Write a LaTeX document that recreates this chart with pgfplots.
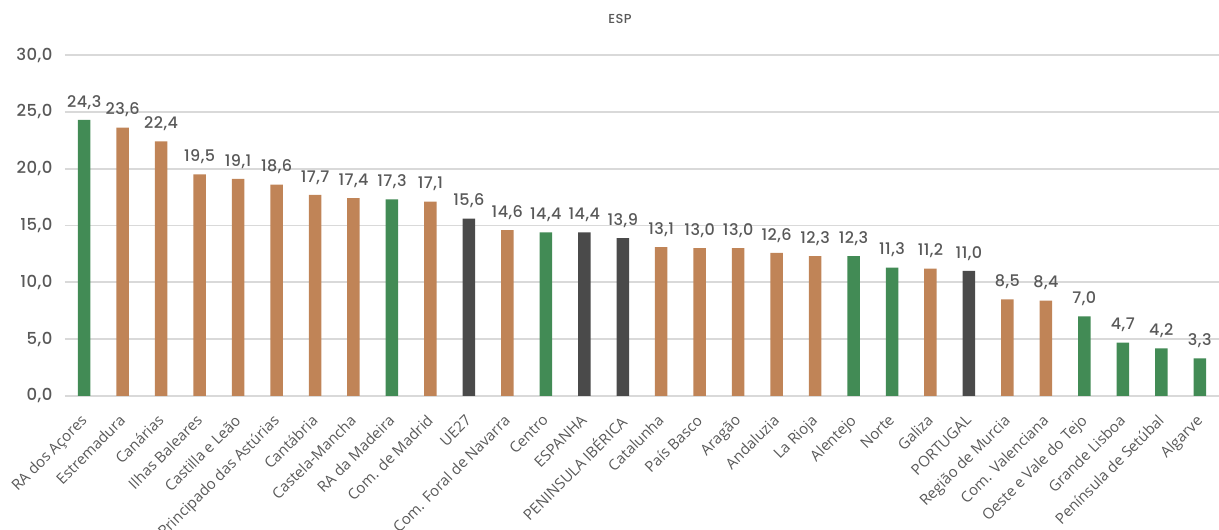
\documentclass[border=0pt]{standalone}
\usepackage{pgfplots}
\pgfplotsset{compat=1.18}
\usepackage{fontspec}
\setmainfont{Open Sans}
\newfontfamily\numfont[LetterSpace=3]{Poppins Medium}
\definecolor{cgreen}{HTML}{428B55}
\definecolor{cbrown}{HTML}{C08457}
\definecolor{cgrey}{HTML}{4A4A4A}
\definecolor{ctext}{HTML}{595959}
\definecolor{cgrid}{HTML}{D9D9D9}
\begin{document}
\begin{tikzpicture}
\path[use as bounding box] (0,0) rectangle (1219pt,530pt);
\begin{axis}[
  at={(65pt,134pt)}, anchor=south west,
  scale only axis, width=1154pt, height=341pt,
  xmin=-0.5, xmax=29.5, ymin=0, ymax=30,
  ytick={0,5,...,30},
  xtick={0,...,29},
  xticklabels={RA dos Açores,Estremadura,Canárias,Ilhas Baleares,Castilla e Leão,Principado das Astúrias,Cantábria,Castela-Mancha,RA da Madeira,Com. de Madrid,UE27,Com. Foral de Navarra,Centro,ESPANHA,PENINSULA IBÉRICA,Catalunha,País Basco,Aragão,Andaluzia,La Rioja,Alentejo,Norte,Galiza,PORTUGAL,Região de Murcia,Com. Valenciana,Oeste e Vale do Tejo,Grande Lisboa,Península de Setúbal,Algarve},
  xticklabel style={xshift=-4.5pt, yshift=-16pt, rotate=45, anchor=north east, font=\fontsize{15}{18}\selectfont, text=ctext, inner sep=1pt},
  yticklabel style={font=\numfont\fontsize{16.5}{19}\selectfont, text=ctext, xshift=-9pt},
  /pgf/number format/.cd, use comma, fixed, fixed zerofill, precision=1, assume math mode=true,
  /pgfplots/.cd,
  axis line style={draw=none},
  major tick length=0pt,
  ymajorgrids, grid style={cgrid, line width=1.8pt},
  title={ESP},
  title style={at={(0.481,1)}, yshift=22pt, font=\numfont\fontsize{13}{15}\selectfont, text=ctext},
  ybar, bar width=12.5pt,
  nodes near coords,
  every node near coord/.append style={font=\numfont\fontsize{16}{19}\selectfont, text=ctext, yshift=7pt},
  clip=false,
]
\addplot[fill=cgreen, draw=none, bar shift=0pt] coordinates {
(0,24.3) (8,17.3) (12,14.4) (20,12.3) (21,11.3) (26,7.0) (27,4.7) (28,4.2) (29,3.3)};
\addplot[fill=cbrown, draw=none, bar shift=0pt] coordinates {
(1,23.6) (2,22.4) (3,19.5) (4,19.1) (5,18.6) (6,17.7) (7,17.4) (9,17.1) (11,14.6) (15,13.1) (16,13.0) (17,13.0) (18,12.6) (19,12.3) (22,11.2) (24,8.5) (25,8.4)};
\addplot[fill=cgrey, draw=none, bar shift=0pt] coordinates {
(10,15.6) (13,14.4) (14,13.9) (23,11.0)};
\end{axis}
\end{tikzpicture}
\end{document}
